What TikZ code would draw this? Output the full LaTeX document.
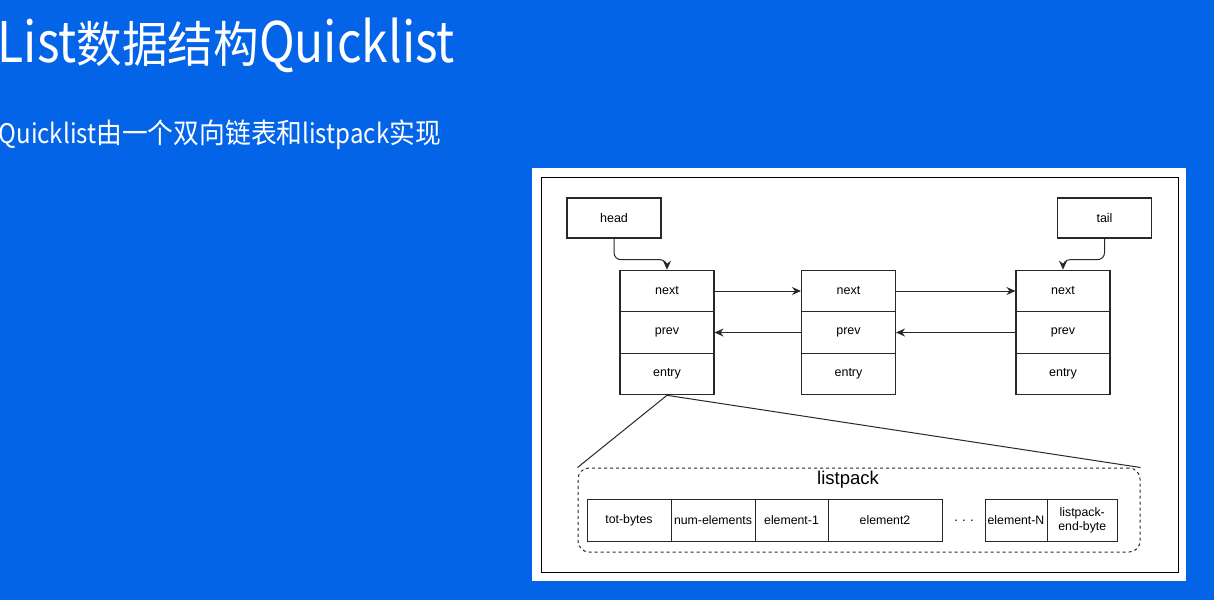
\documentclass[tikz,border=0pt]{standalone}
\usepackage{fontspec}
\setmainfont{Liberation Sans}
\newfontfamily\tlat{Noto Sans CJK SC}[FakeStretch=0.86]
\newfontfamily\tcjk{Noto Sans CJK SC}[FakeStretch=0.93]
\newfontfamily\slat{Noto Sans CJK SC}[FakeStretch=0.89]
\newfontfamily\scjk{Noto Sans CJK SC}[FakeStretch=0.92]
\usetikzlibrary{arrows.meta,calc}
\definecolor{bg}{RGB}{4,100,231}
\definecolor{ln}{RGB}{40,40,40}
\tikzset{
  cell/.style={draw=ln, line width=1.1pt, minimum width=94pt, minimum height=41.5pt, inner sep=0pt, font=\fontsize{12.5}{14}\selectfont},
  lpcell/.style={draw=ln, line width=1pt, minimum height=41.5pt, inner sep=0pt, font=\fontsize{12.3}{13.5}\selectfont, align=center},
  ptr/.style={draw=ln, line width=1.1pt, minimum width=94pt, minimum height=40pt, inner sep=0pt, font=\fontsize{12.5}{14}\selectfont},
  conn/.style={draw=ln, line width=1pt, -{Stealth[length=9pt,width=8pt,inset=3pt]}},
  plain/.style={draw=ln, line width=1pt},
  wtext/.style={text=white, inner sep=0pt, anchor=base west},
}
\begin{document}
\begin{tikzpicture}[x=1pt,y=-1pt]
\useasboundingbox (0,0) rectangle (1214,600);
\fill[bg] (0,0) rectangle (1214,600);
% titles
\node[wtext] (title) at (-2.5,62.7) {{\tlat\fontsize{56}{60}\selectfont List}{\tcjk\fontsize{49}{60}\selectfont 数据结构}{\tlat\fontsize{56}{60}\selectfont Quicklist}};
\node[wtext] (sub) at (-1.5,143) {{\slat\fontsize{27}{30}\selectfont Quicklist}{\scjk\fontsize{28}{30}\selectfont 由一个双向链表和}{\slat\fontsize{27}{30}\selectfont listpack}{\scjk\fontsize{28}{30}\selectfont 实现}};
% panel
\fill[white] (532,168) rectangle (1186,581);
\draw[black, line width=1pt] (541,177) rectangle (1178,572);
% head / tail
\node[ptr] (head) at (614,218) {head};
\node[ptr] (tail) at (1104.5,218) {tail};
% quicklist nodes
\foreach \n/\x in {n1/667, n2/848.5, n3/1063}{
  \node[cell] (\n next) at (\x,291) {next};
  \node[cell] (\n prev) at (\x,332.5) {prev};
  \node[cell] (\n entry) at (\x,374) {entry};
}
% connectors
\draw[conn, rounded corners=7pt] (head.south) |- ($(n1next.north)+(0,-10)$) -- (n1next.north);
\draw[conn, rounded corners=7pt] (tail.south) |- ($(n3next.north)+(0,-10)$) -- (n3next.north);
\draw[conn] (n1next.east) -- (n2next.west);
\draw[conn] (n2next.east) -- (n3next.west);
\draw[conn] (n2prev.west) -- (n1prev.east);
\draw[conn] (n3prev.west) -- (n2prev.east);
% listpack
\node[draw=ln, dashed, line width=1pt, rounded corners=11pt, minimum width=562pt, minimum height=84pt, inner sep=0pt] (lp) at (859,510) {};
\node[inner sep=0pt, font=\fontsize{18.5}{20}\selectfont] (lplabel) at (848,480) {listpack};
\node[lpcell, minimum width=84pt] (c1) at (629,520.5) {tot-bytes};
\node[lpcell, minimum width=84pt] (c2) at (713,520.5) {num-elements};
\node[lpcell, minimum width=73pt] (c3) at (791.5,520.5) {element-1};
\node[lpcell, minimum width=114pt] (c4) at (885,520.5) {element2};
\node[inner sep=0pt, font=\fontsize{13}{14}\selectfont] (dots) at (964,521) {.\,\,.\,\,.};
\node[lpcell, minimum width=62pt] (c5) at (1016,520.5) {element-N};
\node[lpcell, minimum width=70.5pt] (c6) at (1082.25,520.5) {listpack-\\end-byte};
\draw[plain] (n1entry.south) -- (lp.north west);
\draw[plain] (n1entry.south) -- (lp.north east);
\end{tikzpicture}
\end{document}
